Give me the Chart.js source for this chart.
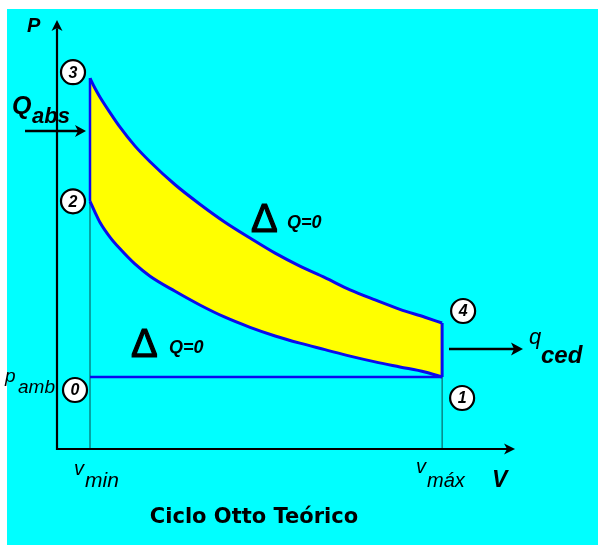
<!DOCTYPE html>
<html>
<head>
<meta charset="utf-8">
<script src="https://cdn.jsdelivr.net/npm/chart.js@4.4.1/dist/chart.umd.min.js"></script>
<style>
  html, body { margin: 0; padding: 0; background: #ffffff; }
  #wrap { width: 598px; height: 545px; position: relative; }
</style>
</head>
<body>
<div id="wrap"><canvas id="c" width="598" height="545"></canvas></div>
<script>
// ---- Data ----
// Volume (relative, V_min = 1)
const volumes = [1.00, 1.15, 1.30, 1.61, 1.91, 2.36, 2.82, 3.58, 4.33, 5.09, 5.85, 6.61, 7.36, 8.12, 8.88, 9.64, 10.39, 11.15, 11.67];
// Expansion 3 -> 4 (pressure, relative to p_amb = 1)
const pressureExpansion = [5.15, 5.01, 4.89, 4.67, 4.47, 4.21, 3.99, 3.67, 3.40, 3.15, 2.93, 2.72, 2.54, 2.38, 2.21, 2.07, 1.94, 1.83, 1.75];
// Compression 1 -> 2
const pressureCompression = [3.44, 3.29, 3.15, 2.94, 2.78, 2.57, 2.40, 2.19, 2.00, 1.83, 1.69, 1.57, 1.47, 1.38, 1.29, 1.21, 1.14, 1.07, 1.00];
const vMin = 1.00;
const vMax = 11.67;
const pAmb = 1.00;
const axisMaxV = 14;
const axisMaxP = 6;
// State points: label, V, P
const statePoints = [
  { label: '0', v: vMin, p: pAmb },
  { label: '1', v: vMax, p: pAmb },
  { label: '2', v: vMin, p: 3.44 },
  { label: '3', v: vMin, p: 5.15 },
  { label: '4', v: vMax, p: 1.75 }
];
const titleText = 'Ciclo Otto Teórico';

// ---- Build ----
const BLUE = '#0a0aee';
const THIN = '#0b4b4b';
const pts = (xs, ys) => xs.map((x, i) => ({ x: x, y: ys[i] }));

const bgPlugin = {
  id: 'bg',
  beforeDraw(chart) {
    const ctx = chart.ctx;
    ctx.save();
    ctx.fillStyle = '#ffffff';
    ctx.fillRect(0, 0, chart.width, chart.height);
    ctx.fillStyle = '#00ffff';
    ctx.fillRect(7, 9, chart.width - 7, chart.height - 9);
    ctx.restore();
  }
};

function arrowHead(ctx, x, y, dir, len, half) {
  ctx.beginPath();
  if (dir === 'right') {
    ctx.moveTo(x, y); ctx.lineTo(x - len, y - half); ctx.lineTo(x - len + 3, y); ctx.lineTo(x - len, y + half);
  } else {
    ctx.moveTo(x, y); ctx.lineTo(x - half, y + len); ctx.lineTo(x, y + len - 3); ctx.lineTo(x + half, y + len);
  }
  ctx.closePath();
  ctx.fill();
}

const annotPlugin = {
  id: 'annot',
  afterDraw(chart) {
    const ctx = chart.ctx;
    const xs = chart.scales.x, ys = chart.scales.y;
    const X = v => xs.getPixelForValue(v);
    const Y = p => ys.getPixelForValue(p);
    ctx.save();
    // axes
    ctx.strokeStyle = '#000';
    ctx.fillStyle = '#000';
    ctx.lineWidth = 2.2;
    const x0 = X(0), y0 = Y(0);
    ctx.beginPath();
    ctx.moveTo(x0, y0 + 1); ctx.lineTo(x0, Y(5.9) + 4);
    ctx.moveTo(x0 - 1, y0); ctx.lineTo(X(13.85) - 4, y0);
    ctx.stroke();
    arrowHead(ctx, x0, Y(5.96), 'up', 11, 5.5);
    arrowHead(ctx, X(13.88), y0, 'right', 11, 5.5);

    // Q_abs arrow
    ctx.lineWidth = 2.5;
    ctx.beginPath(); ctx.moveTo(25, 131); ctx.lineTo(78, 131); ctx.stroke();
    arrowHead(ctx, 86, 131, 'right', 11, 6);
    // q_ced arrow
    ctx.beginPath(); ctx.moveTo(449, 349); ctx.lineTo(515, 349); ctx.stroke();
    arrowHead(ctx, 523, 349, 'right', 12, 6.5);

    ctx.textBaseline = 'alphabetic';
    ctx.textAlign = 'left';
    const F = '"Liberation Sans", Arial, sans-serif';
    // P
    ctx.font = 'bold italic 20px ' + F;
    ctx.fillText('P', 27, 32);
    // Q abs
    ctx.font = 'bold italic 25px ' + F;
    ctx.fillText('Q', 12, 114);
    ctx.font = 'bold italic 22px ' + F;
    ctx.fillText('abs', 32, 123);
    // p amb
    ctx.font = 'italic 19px ' + F;
    ctx.fillText('p', 5, 382);
    ctx.fillText('amb', 18, 393);
    // v min
    ctx.font = 'italic 20px ' + F;
    ctx.fillText('v', 74, 475);
    ctx.font = 'italic 21px ' + F;
    ctx.fillText('min', 85, 487);
    // v max
    ctx.font = 'italic 20px ' + F;
    ctx.fillText('v', 416, 473);
    ctx.fillText('máx', 427, 487);
    // V
    ctx.font = 'bold italic 23px ' + F;
    ctx.fillText('V', 492, 487);
    // q ced
    ctx.font = 'italic 22px ' + F;
    ctx.fillText('q', 529, 344);
    ctx.font = 'bold italic 24px ' + F;
    ctx.fillText('ced', 541, 363);
    // Delta Q=0
    ctx.font = '40px ' + F;
    ctx.lineWidth = 1.2;
    ctx.strokeStyle = '#000';
    ctx.fillText('Δ', 131, 357);
    ctx.strokeText('Δ', 131, 357);
    ctx.fillText('Δ', 251, 232);
    ctx.strokeText('Δ', 251, 232);
    ctx.font = 'bold italic 18px ' + F;
    ctx.fillText('Q=0', 169, 353);
    ctx.fillText('Q=0', 287, 228);
    // title
    ctx.font = 'bold 21px "DejaVu Sans", sans-serif';
    ctx.textAlign = 'center';
    ctx.fillText(titleText, 254, 523);

    // state point circles
    const offsets = { '0': [-15, -13], '1': [20, -21], '2': [-17, 0], '3': [-17, 6], '4': [21, 12] };
    statePoints.forEach(sp => {
      const o = offsets[sp.label];
      const cx = X(sp.v) + o[0];
      const cy = Y(sp.p) - o[1];
      ctx.beginPath();
      ctx.arc(cx, cy, 12, 0, Math.PI * 2);
      ctx.fillStyle = '#ffffff';
      ctx.fill();
      ctx.lineWidth = 2.2;
      ctx.strokeStyle = '#000';
      ctx.stroke();
      ctx.fillStyle = '#000';
      ctx.font = 'bold italic 16px ' + F;
      ctx.textAlign = 'center';
      ctx.textBaseline = 'middle';
      ctx.fillText(sp.label, cx, cy + 1);
      ctx.textBaseline = 'alphabetic';
    });
    ctx.restore();
  }
};

const lineBase = { pointRadius: 0, pointHoverRadius: 0, fill: false };

new Chart(document.getElementById('c'), {
  type: 'line',
  data: {
    datasets: [
      Object.assign({}, lineBase, {
        label: 'vmin', data: [{ x: vMin, y: 0 }, { x: vMin, y: pressureExpansion[0] }],
        borderColor: THIN, borderWidth: 1, order: 10
      }),
      Object.assign({}, lineBase, {
        label: 'vmax', data: [{ x: vMax, y: 0 }, { x: vMax, y: pAmb }],
        borderColor: THIN, borderWidth: 1, order: 10
      }),
      Object.assign({}, lineBase, {
        label: '3-4', data: pts(volumes, pressureExpansion),
        borderColor: BLUE, borderWidth: 3, cubicInterpolationMode: 'monotone',
        fill: '+1', backgroundColor: '#ffff00', order: 5
      }),
      Object.assign({}, lineBase, {
        label: '1-2', data: pts(volumes, pressureCompression),
        borderColor: BLUE, borderWidth: 3, cubicInterpolationMode: 'monotone', order: 4
      }),
      Object.assign({}, lineBase, {
        label: '0-1', data: [{ x: vMin, y: pAmb }, { x: vMax, y: pAmb }],
        borderColor: BLUE, borderWidth: 2.5, order: 3
      }),
      Object.assign({}, lineBase, {
        label: '2-3', data: [{ x: vMin, y: pressureCompression[0] }, { x: vMin, y: pressureExpansion[0] }],
        borderColor: BLUE, borderWidth: 2.5, order: 2
      }),
      Object.assign({}, lineBase, {
        label: '4-1', data: [{ x: vMax, y: pressureExpansion[pressureExpansion.length - 1] }, { x: vMax, y: pAmb }],
        borderColor: BLUE, borderWidth: 3, order: 2
      })
    ]
  },
  options: {
    responsive: false,
    animation: false,
    devicePixelRatio: 1,
    layout: { padding: { left: 57, top: 17, right: 79, bottom: 96 } },
    plugins: { legend: { display: false }, tooltip: { enabled: false }, title: { display: false } },
    scales: {
      x: { type: 'linear', min: 0, max: axisMaxV, display: false },
      y: { type: 'linear', min: 0, max: axisMaxP, display: false }
    },
    elements: { line: { borderCapStyle: 'butt' } }
  },
  plugins: [bgPlugin, annotPlugin]
});
</script>
</body>
</html>
